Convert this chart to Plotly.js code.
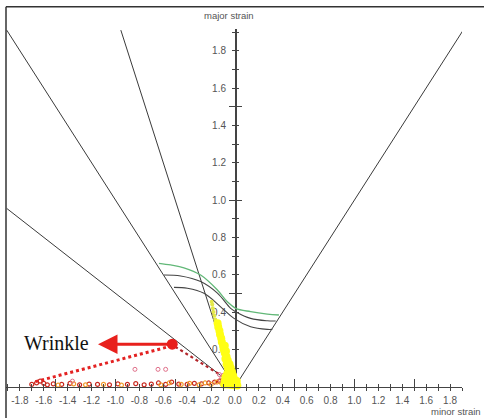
<!DOCTYPE html>
<html>
<head>
<meta charset="utf-8">
<script src="https://cdn.plot.ly/plotly-3.0.1.min.js"></script>
<style>html,body{margin:0;padding:0;background:#fff;}#chart{width:484px;height:418px;}</style>
</head>
<body>
<div id="chart"></div>
<script>
// ---- data ----
const xTickVals = [-1.9,-1.8,-1.7,-1.6,-1.5,-1.4,-1.3,-1.2,-1.1,-1.0,-0.9,-0.8,-0.7,-0.6,-0.5,-0.4,-0.3,-0.2,-0.1,0,0.1,0.2,0.3,0.4,0.5,0.6,0.7,0.8,0.9,1.0,1.1,1.2,1.3,1.4,1.5,1.6,1.7,1.8,1.9];
const xTickText = ['','-1.8','','-1.6','','-1.4','','-1.2','','-1.0','','-0.8','','-0.6','','-0.4','','-0.2','','0.0','','0.2','','0.4','','0.6','','0.8','','1.0','','1.2','','1.4','','1.6','','1.8',''];
const yTickVals = [0.1,0.2,0.3,0.4,0.5,0.6,0.7,0.8,0.9,1.0,1.1,1.2,1.3,1.4,1.5,1.6,1.7,1.8,1.9];
const yTickText = ['','0.2','','0.4','','0.6','','0.8','','1.0','','1.2','','1.4','','1.6','','1.8',''];
const xLongTicks = [-1.5,-1.0,-0.5,0.5,1.0,1.5];
const yLongTicks = [0.5,1.0,1.5];

// strain-path limit lines (from origin)
const biaxialX = [0, 1.91],   biaxialY = [0, 1.91];
const shearX = [0, -1.91],    shearY = [0, 1.91];
const uniaxialX = [0, -0.955], uniaxialY = [0, 1.91];
const wrinkleLimX = [0, -1.91], wrinkleLimY = [0, 0.955];

// forming limit curves
const flcGreenX = [-0.636,-0.538,-0.427,-0.287,-0.147,-0.064,0.006,0.131,0.271,0.368];
const flcGreenY = [0.661,0.652,0.637,0.598,0.518,0.455,0.420,0.402,0.389,0.384];
const flcMidX = [-0.594,-0.454,-0.287,-0.147,-0.036,0.006,0.131,0.271,0.341];
const flcMidY = [0.598,0.593,0.563,0.501,0.420,0.402,0.366,0.353,0.352];
const flcLowX = [-0.510,-0.398,-0.259,-0.120,-0.008,0.131,0.271,0.313];
const flcLowY = [0.532,0.527,0.500,0.428,0.366,0.321,0.307,0.307];

// measured strain points
const redPtsX = [-1.70,-1.66,-1.63,-1.60,-1.57,-1.52,-1.45,-1.38,-1.30,-1.22,-1.15,-1.05,-0.98,-0.90,-0.83,-0.76,-0.70,-0.64,-0.58,-0.53,-0.47,-0.40,-0.34,-0.28,-0.22,-0.17,-0.13,-0.10,-0.08];
const redPtsY = [0.012,0.020,0.030,0.018,0.010,0.015,0.012,0.018,0.010,0.014,0.012,0.010,0.015,0.012,0.016,0.010,0.014,0.020,0.012,0.025,0.014,0.012,0.018,0.015,0.020,0.025,0.030,0.028,0.022];
const orangePtsX = [-1.48,-1.35,-1.25,-1.10,-0.95,-0.62,-0.55,-0.45,-0.38,-0.30,-0.25,-0.20,-0.15,-0.11,-0.07];
const orangePtsY = [0.008,0.015,0.010,0.012,0.008,0.010,0.020,0.012,0.018,0.010,0.020,0.012,0.025,0.018,0.030];
const pinkPtsX = [-1.36,-0.837,-0.644,-0.58,-0.13,-0.11,-0.10,-0.08,-0.12,-0.09,-0.07];
const pinkPtsY = [0.030,0.093,0.093,0.093,0.065,0.050,0.060,0.045,0.035,0.030,0.060];
const yellowThinX = [-0.195,-0.19,-0.185,-0.18,-0.172,-0.165];
const yellowThinY = [0.455,0.44,0.42,0.40,0.38,0.36];
const yellowX = [-0.145,-0.14,-0.13,-0.125,-0.115,-0.11,-0.10,-0.085,-0.095,-0.075,-0.085,-0.07,-0.08,-0.06,-0.07,-0.045,-0.06,-0.035,-0.05,-0.025,-0.065,-0.04,-0.015,-0.055,-0.03,-0.005,-0.07,-0.045,-0.02,0.005,-0.06,-0.035,-0.01,0.012,-0.085,-0.08,0.015,0.02,-0.09];
const yellowY = [0.34,0.32,0.30,0.28,0.26,0.24,0.22,0.22,0.20,0.19,0.18,0.16,0.15,0.14,0.12,0.12,0.10,0.10,0.08,0.08,0.07,0.06,0.06,0.045,0.04,0.04,0.03,0.025,0.02,0.02,0.012,0.01,0.008,0.01,0.03,0.05,0.03,0.006,0.012];

// wrinkle annotation
const wrinkleTrendX = [-1.67, -0.55], wrinkleTrendY = [0.027, 0.215];
const wrinkleEdgeX = [-0.50, -0.12], wrinkleEdgeY = [0.214, 0.062];
const wrinkleDotX = [-0.525], wrinkleDotY = [0.228];
const arrowHeadX = -1.146, arrowY = 0.228;
const wrinkleLabel = 'Wrinkle';

// ---- drawing ----
const narrow = '"Liberation Sans Narrow", "Arial Narrow", "Liberation Sans", Arial, sans-serif';
const lineC = '#3a3a3a';
const traces = [
  {x: biaxialX, y: biaxialY, mode:'lines', line:{color:lineC, width:1}},
  {x: shearX, y: shearY, mode:'lines', line:{color:lineC, width:1}},
  {x: uniaxialX, y: uniaxialY, mode:'lines', line:{color:lineC, width:1}},
  {x: wrinkleLimX, y: wrinkleLimY, mode:'lines', line:{color:lineC, width:1}},
  {x: flcGreenX, y: flcGreenY, mode:'lines', line:{color:'#62b878', width:1.3, shape:'spline'}},
  {x: flcMidX, y: flcMidY, mode:'lines', line:{color:'#444', width:1.1, shape:'spline'}},
  {x: flcLowX, y: flcLowY, mode:'lines', line:{color:'#444', width:1.1, shape:'spline'}},
  {x: redPtsX, y: redPtsY, mode:'markers', cliponaxis:false, marker:{symbol:'circle-open', size:4, color:'#c8281e', line:{width:1.2}}},
  {x: orangePtsX, y: orangePtsY, mode:'markers', cliponaxis:false, marker:{symbol:'circle-open', size:4, color:'#f09a2a', line:{width:1.2}}},
  {x: wrinkleTrendX, y: wrinkleTrendY, mode:'lines', line:{color:'#e32222', width:3, dash:'dot'}},
  {x: wrinkleEdgeX, y: wrinkleEdgeY, mode:'lines', line:{color:'#b3262b', width:2.2, dash:'dot'}},
  {x: pinkPtsX, y: pinkPtsY, mode:'markers', cliponaxis:false, marker:{symbol:'circle-open', size:4, color:'#e0708a', line:{width:1}}},
  {x: yellowThinX, y: yellowThinY, mode:'markers', cliponaxis:false, marker:{size:4, color:'#e4e84a'}},
  {x: yellowX, y: yellowY, mode:'markers', cliponaxis:false, marker:{size:8, color:'#ffff14'}},
  {x: wrinkleDotX, y: wrinkleDotY, mode:'markers', cliponaxis:false, marker:{size:11, color:'#e8201c'}},
  {x: [], y: [], xaxis:'x2', yaxis:'y'},
  {x: [], y: [], xaxis:'x3', yaxis:'y'},
  {x: [], y: [], xaxis:'x', yaxis:'y2'},
  {x: [], y: [], xaxis:'x', yaxis:'y3'},
  {x: [], y: [], xaxis:'x', yaxis:'y4'}
];
traces.forEach(t => { t.hoverinfo = 'skip'; t.showlegend = false; });

const xRange = [-1.916, 1.900];
const yRange = [0, 1.915];
const xDom = [6/484, 462/484];
const yDom = [(418-386.7)/418, (418-29.2)/418];
const yPos = 235/484;
const tickFont = {family: narrow, size: 10, color: '#555'};
const baseAx = {showgrid:false, zeroline:false, fixedrange:true, tickcolor:'#444', tickwidth:1};

const layout = {
  width: 484, height: 418,
  margin: {l:0, r:0, t:0, b:0, pad:0},
  paper_bgcolor: '#fff', plot_bgcolor: 'rgba(0,0,0,0)',
  showlegend: false,
  xaxis: Object.assign({}, baseAx, {domain:xDom, range:xRange, anchor:'y', showline:true, linecolor:'#444', linewidth:1.5,
    tickmode:'array', tickvals:xTickVals, ticktext:xTickText, ticks:'outside', ticklen:3, tickfont:tickFont, ticklabelstandoff:1}),
  xaxis2: Object.assign({}, baseAx, {overlaying:'x', range:xRange, anchor:'y', showline:false, showticklabels:false,
    tickmode:'array', tickvals:xTickVals, ticks:'inside', ticklen:3}),
  xaxis3: Object.assign({}, baseAx, {overlaying:'x', range:xRange, anchor:'y', showline:false, showticklabels:false,
    tickmode:'array', tickvals:xLongTicks, ticks:'inside', ticklen:8}),
  yaxis: Object.assign({}, baseAx, {domain:yDom, range:yRange, anchor:'free', position:yPos, showline:true, linecolor:'#444', linewidth:1.5,
    tickmode:'array', tickvals:yTickVals, ticktext:yTickText, ticks:'outside', ticklen:3, tickfont:tickFont, ticklabelstandoff:4, layer:'below traces'}),
  yaxis2: Object.assign({}, baseAx, {overlaying:'y', range:yRange, anchor:'free', position:yPos, showline:false, showticklabels:false,
    tickmode:'array', tickvals:yTickVals, ticks:'inside', ticklen:3, layer:'below traces'}),
  yaxis3: Object.assign({}, baseAx, {overlaying:'y', range:yRange, anchor:'free', position:yPos, showline:false, showticklabels:false,
    tickmode:'array', tickvals:yLongTicks, ticks:'inside', ticklen:6, layer:'below traces'}),
  yaxis4: Object.assign({}, baseAx, {overlaying:'y', range:yRange, anchor:'free', position:yPos, showline:false, showticklabels:false,
    tickmode:'array', tickvals:yLongTicks, ticks:'outside', ticklen:6, layer:'below traces'}),
  shapes: [
    {type:'line', xref:'paper', yref:'paper', x0:6/484, x1:1, y0:(418-6.7)/418, y1:(418-6.7)/418, line:{color:'#333', width:1.5}},
    {type:'line', xref:'paper', yref:'paper', x0:6/484, x1:6/484, y0:0, y1:(418-6.7)/418, line:{color:'#333', width:1.5}}
  ],
  annotations: [
    {xref:'x', yref:'y', axref:'x', ayref:'y', x:arrowHeadX, y:arrowY, ax:wrinkleDotX[0], ay:arrowY, text:'', showarrow:true,
      arrowhead:2, arrowsize:1.3, arrowwidth:3, arrowcolor:'#e8201c'},
    {xref:'x', yref:'y', x:-1.494, y:0.234, text:wrinkleLabel, showarrow:false, xanchor:'center', yanchor:'middle',
      font:{family:'"Liberation Serif", "Times New Roman", serif', size:20, color:'#111'}},
    {xref:'paper', yref:'paper', x:229/484, y:(418-15)/418, text:'major strain', showarrow:false, xanchor:'center', yanchor:'middle',
      font:{family:narrow, size:9.5, color:'#555'}},
    {xref:'paper', yref:'paper', x:483/484, y:(418-411.5)/418, text:'minor strain', showarrow:false, xanchor:'right', yanchor:'middle',
      font:{family:narrow, size:9.5, color:'#555'}}
  ]
};
Plotly.newPlot('chart', traces, layout, {displayModeBar:false, staticPlot:true});
</script>
</body>
</html>
